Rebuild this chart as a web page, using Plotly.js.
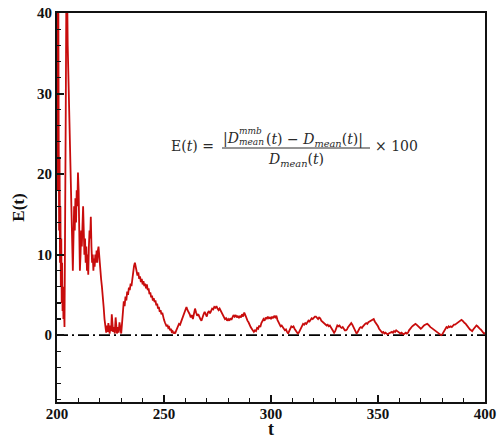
<!DOCTYPE html>
<html>
<head>
<meta charset="utf-8">
<script src="https://cdn.plot.ly/plotly-3.0.1.min.js"></script>
<style>html,body{margin:0;padding:0;background:#fff;}#chart{width:497px;height:440px;}</style>
</head>
<body>
<div id="chart"></div>
<script>
// ---- Data ----
// Segment A: initial transient (t = 200 .. 229.6)
const tTransient = [
200.0,200.2,200.4,200.6,200.8,201.0,201.2,201.4,201.6,201.8,
202.0,202.2,202.4,202.6,202.8,203.0,203.2,203.5,203.8,204.1,
204.4,204.7,205.0,205.3,205.6,205.9,206.2,206.5,206.8,207.1,
207.4,207.7,208.0,208.3,208.6,208.9,209.2,209.5,209.8,210.1,
210.4,210.7,211.0,211.3,211.6,211.9,212.2,212.5,212.8,213.1,
213.4,213.7,214.0,214.3,214.6,214.9,215.2,215.5,215.8,216.1,
216.4,216.7,217.0,217.3,217.6,217.9,218.2,218.5,218.8,219.1,
219.4,219.7,220.0,220.3,220.6,221.0,221.4,221.8,222.2,222.6,
223.0,223.4,223.7,224.0,224.3,224.6,225.0,225.3,225.6,225.9,
226.2,226.6,227.0,227.4,227.7,228.0,228.4,228.8,229.2,229.6
];
const eTransient = [
44,18,30,44,24,13,22,9,16,6,
12,4,9,3,6,2,4,1,10,28,
44,44,36,32,28,27,24,19,14,10,
8,12,16,13,17,14,18,16,20.2,18,
12,8,10,13,11,14,16,13,10,12,
9,11,8,10,7.5,11,13,12,14.7,11,
9,10,8,9.5,8.5,10,9,10.5,9,10.5,
11,10,8.5,8,7,6,5,3.5,2,0.8,
0.3,1.2,0.4,1.5,0.6,0.2,1.2,0.5,2.6,1.2,
0.4,1.0,0.2,2.2,0.8,0.2,1.0,0.3,1.6,0.4
];
// Segment B: second bump (t = 230 .. 255.6)
const tBump = [
230.0,230.4,230.8,231.2,231.6,232.0,232.4,232.8,233.2,233.6,
234.0,234.4,234.8,235.2,235.6,236.0,236.4,236.8,237.2,237.6,
238.0,238.4,238.8,239.2,239.6,240.0,240.4,240.8,241.2,241.6,
242.0,242.4,242.8,243.2,243.6,244.0,244.4,244.8,245.2,245.6,
246.0,246.4,246.8,247.2,247.6,248.0,248.4,248.8,249.2,249.6,
250.0,250.4,250.8,251.2,251.6,252.0,252.4,252.8,253.2,253.6,
254.0,254.4,254.8,255.2,255.6
];
const eBump = [
0.2,1.5,3.0,4.2,3.6,4.8,4.3,5.4,5.0,5.9,
5.6,6.4,6.1,7.2,8.0,8.6,9.0,8.3,8.0,7.4,
7.8,7.0,7.3,6.6,7.0,6.3,6.7,6.1,6.4,5.8,
6.3,5.6,5.8,5.1,5.3,4.7,4.9,4.3,4.6,4.1,
4.3,3.7,3.9,3.3,3.5,2.9,3.1,2.6,2.8,2.2,
1.9,1.6,1.4,1.1,1.3,0.9,1.0,0.6,0.8,0.4,
0.5,0.2,0.4,0.2,0.5
];
// Segment C: settled fluctuations (t = 256 .. 400)
const tSettled = [
256.0,256.5,257.0,257.5,258.0,258.5,259.0,259.5,260.0,260.5,
261.0,261.5,262.0,262.5,263.0,263.5,264.0,264.5,265.0,265.5,
266.0,266.5,267.0,267.5,268.0,268.5,269.0,269.5,270.0,270.5,
271.0,271.5,272.0,272.5,273.0,273.5,274.0,274.5,275.0,275.5,
276.0,276.5,277.0,277.5,278.0,278.5,279.0,279.5,280.0,280.5,
281.0,281.5,282.0,282.5,283.0,283.5,284.0,284.5,285.0,285.5,
286.0,286.5,287.0,287.5,288.0,288.5,289.0,289.5,290.0,290.5,
291.0,291.5,292.0,292.5,293.0,293.5,294.0,294.5,295.0,295.5,
296.0,296.5,297.0,297.5,298.0,298.5,299.0,299.5,300.0,300.5,
301.0,301.5,302.0,302.5,303.0,303.5,304.0,304.5,305.0,305.5,
306.0,306.5,307.0,307.5,308.0,308.5,309.0,309.5,310.0,310.5,
311.0,311.5,312.0,312.5,313.0,313.5,314.0,314.5,315.0,315.5,
316.0,316.5,317.0,317.5,318.0,318.5,319.0,319.5,320.0,320.5,
321.0,321.5,322.0,322.5,323.0,323.5,324.0,324.5,325.0,325.5,
326.0,326.5,327.0,327.5,328.0,328.5,329.0,329.5,330.0,330.5,
331.0,331.5,332.0,332.5,333.0,333.5,334.0,334.5,335.0,335.5,
336.0,336.5,337.0,337.5,338.0,338.5,339.0,339.5,340.0,340.5,
341.0,341.5,342.0,342.5,343.0,343.5,344.0,344.5,345.0,345.5,
346.0,346.5,347.0,347.5,348.0,348.5,349.0,349.5,350.0,350.5,
351.0,351.5,352.0,352.5,353.0,353.5,354.0,354.5,355.0,355.5,
356.0,356.5,357.0,357.5,358.0,358.5,359.0,359.5,360.0,360.5,
361.0,361.5,362.0,362.5,363.0,363.5,364.0,364.5,365.0,365.5,
366.0,366.5,367.0,367.5,368.0,368.5,369.0,369.5,370.0,370.5,
371.0,371.5,372.0,372.5,373.0,373.5,374.0,374.5,375.0,375.5,
376.0,376.5,377.0,377.5,378.0,378.5,379.0,379.5,380.0,380.5,
381.0,381.5,382.0,382.5,383.0,383.5,384.0,384.5,385.0,385.5,
386.0,386.5,387.0,387.5,388.0,388.5,389.0,389.5,390.0,390.5,
391.0,391.5,392.0,392.5,393.0,393.5,394.0,394.5,395.0,395.5,
396.0,396.5,397.0,397.5,398.0,398.5,399.0,399.5,400.0
];
const eSettled = [
0.8,1.1,1.4,1.3,1.7,1.9,2.4,2.9,3.3,3.5,
3.1,2.9,2.6,2.2,2.5,2.0,2.6,3.3,2.8,2.4,
2.6,2.2,2.0,1.8,2.3,2.6,2.9,2.6,2.3,2.8,
3.0,2.7,3.1,3.3,3.2,3.5,3.4,3.6,3.3,3.1,
3.3,3.0,2.7,2.4,2.2,2.0,2.1,1.8,2.0,1.8,
2.1,1.9,2.2,2.5,2.3,2.5,2.2,2.4,2.1,2.4,
2.2,2.6,2.3,2.8,2.5,2.1,1.8,1.6,1.2,1.0,
0.8,0.6,0.4,0.6,0.5,0.9,0.8,1.2,1.0,1.5,
1.8,2.0,1.8,2.2,2.0,2.3,2.1,2.2,2.0,2.3,
2.1,2.4,2.2,2.4,1.9,1.6,1.4,1.1,1.2,0.9,
0.8,0.6,0.7,0.4,0.2,0.5,0.8,1.1,1.0,1.1,
0.8,0.6,0.4,0.2,0.3,0.6,0.9,1.2,1.4,1.3,
1.5,1.4,1.6,1.8,1.7,1.9,2.1,2.0,2.2,2.3,
2.3,2.2,2.0,2.2,2.1,1.8,1.7,1.5,1.4,1.3,
1.2,1.3,1.1,1.2,1.0,0.8,0.5,0.3,0.5,0.9,
1.2,1.1,1.2,1.0,0.9,1.0,0.8,0.6,0.6,0.7,
1.0,1.2,1.3,1.5,1.3,1.0,0.7,0.4,0.2,0.4,
0.7,0.9,1.0,0.9,1.1,1.3,1.4,1.5,1.4,1.6,
1.7,1.8,1.9,2.0,2.0,1.7,1.5,1.4,1.1,0.8,
0.6,0.4,0.3,0.4,0.2,0.3,0.2,0.1,0.2,0.3,
0.3,0.4,0.3,0.5,0.4,0.6,0.5,0.4,0.3,0.2,
0.3,0.2,0.1,0.2,0.3,0.2,0.3,0.6,0.8,1.0,
1.1,1.2,1.3,1.4,1.3,1.2,1.0,0.9,0.8,0.9,
1.1,1.2,1.3,1.4,1.4,1.3,1.1,1.0,0.9,0.8,
0.6,0.5,0.4,0.3,0.2,0.2,0.1,0.0,0.1,0.3,
0.6,0.8,1.0,0.9,1.1,1.0,1.1,1.0,1.2,1.3,
1.3,1.4,1.5,1.6,1.6,1.7,1.9,1.8,1.6,1.5,
1.4,1.2,1.0,0.9,0.7,0.6,0.5,0.7,0.9,1.1,
1.2,1.1,0.9,0.8,0.7,0.5,0.3,0.2,0.3
];
// Reference (zero) line
const zeroLineT = [200, 400];
const zeroLineE = [0, 0];
// Axis tick labels and titles
const xTickVals = [200, 250, 300, 350, 400];
const yTickVals = [0, 10, 20, 30, 40];
const xTitle = 't';
const yTitle = 'E(t)';

// ---- Build traces ----
const tAll = tTransient.concat(tBump, tSettled);
const eAll = eTransient.concat(eBump, eSettled);

const traces = [
  {x: zeroLineT, y: zeroLineE, mode: 'lines', type: 'scatter', hoverinfo: 'skip',
   line: {color: '#000000', width: 1.8, dash: '11px,4px,2px,4px'}},
  {x: tAll, y: eAll, mode: 'lines', type: 'scatter',
   line: {color: '#c80c0c', width: 1.8}}
];

const L = 57, R = 485, T = 13, B = 402;
function px(x) { return (x - L) / (R - L); }
function py(y) { return (B - y) / (B - T); }
const fFam = 'DejaVu Serif, serif';
const fCol = '#2a2a2a';
function ann(text, x, y, size, xanchor) {
  return {text: text, xref: 'paper', yref: 'paper', x: px(x), y: py(y),
    xanchor: xanchor || 'left', yanchor: 'middle', showarrow: false,
    font: {family: fFam, size: size, color: fCol}};
}

const axisFont = {family: 'Liberation Serif, Times New Roman, serif', size: 15, color: '#111', weight: 'bold'};

const layout = {
  width: 497, height: 440,
  margin: {l: L, r: 497 - R, t: T, b: 440 - B},
  paper_bgcolor: '#ffffff', plot_bgcolor: '#ffffff',
  showlegend: false,
  xaxis: {
    range: [200, 400], tickvals: xTickVals, ticktext: xTickVals.map(String),
    ticks: 'inside', ticklen: 7, tickwidth: 2, tickcolor: '#111',
    ticklabelstandoff: -3,
    minor: {dtick: 10, tick0: 200, ticks: 'inside', ticklen: 4, tickwidth: 1.2, tickcolor: '#111'},
    showline: true, linecolor: '#111', linewidth: 2, mirror: true,
    showgrid: false, zeroline: false, tickfont: axisFont,
    automargin: false
  },
  yaxis: {
    range: [-8.3, 40], tickvals: yTickVals, ticktext: yTickVals.map(String),
    ticks: 'inside', ticklen: 7, tickwidth: 2, tickcolor: '#111',
    minor: {dtick: 2, tick0: 0, ticks: 'inside', ticklen: 4, tickwidth: 1.2, tickcolor: '#111'},
    showline: true, linecolor: '#111', linewidth: 2, mirror: true,
    showgrid: false, zeroline: false, tickfont: axisFont,
    title: {text: yTitle, font: {family: 'Liberation Serif, serif', size: 17, color: '#111', weight: 'bold'}, standoff: 8},
    automargin: false
  },
  annotations: [
    {text: '<b>' + xTitle + '</b>', xref: 'paper', yref: 'paper', x: 0.5, y: py(440),
     xanchor: 'center', yanchor: 'bottom', showarrow: false, borderpad: 0,
     font: {family: 'Liberation Serif, serif', size: 18, color: '#111'}},
    ann('E(<i>t</i>) =', 216, 146, 14, 'right'),
    ann('|<i>D</i>', 221, 138, 14, 'left'),
    ann('<i>mmb</i>', 237, 131, 9, 'left'),
    ann('<i>mean</i>', 237, 142, 9, 'left'),
    ann('(<i>t</i>) − <i>D</i><sub><i>mean</i></sub>(<i>t</i>)|', 264, 140, 14, 'left'),
    ann('<i>D</i><sub><i>mean</i></sub>(<i>t</i>)', 296, 160, 14, 'center'),
    ann('× 100', 373, 146, 14, 'left')
  ],
  shapes: [
    {type: 'line', xref: 'paper', yref: 'paper', x0: px(222), x1: px(370), y0: py(148), y1: py(148),
     line: {color: fCol, width: 1}}
  ]
};

Plotly.newPlot('chart', traces, layout, {displayModeBar: false, staticPlot: true});
</script>
</body>
</html>
